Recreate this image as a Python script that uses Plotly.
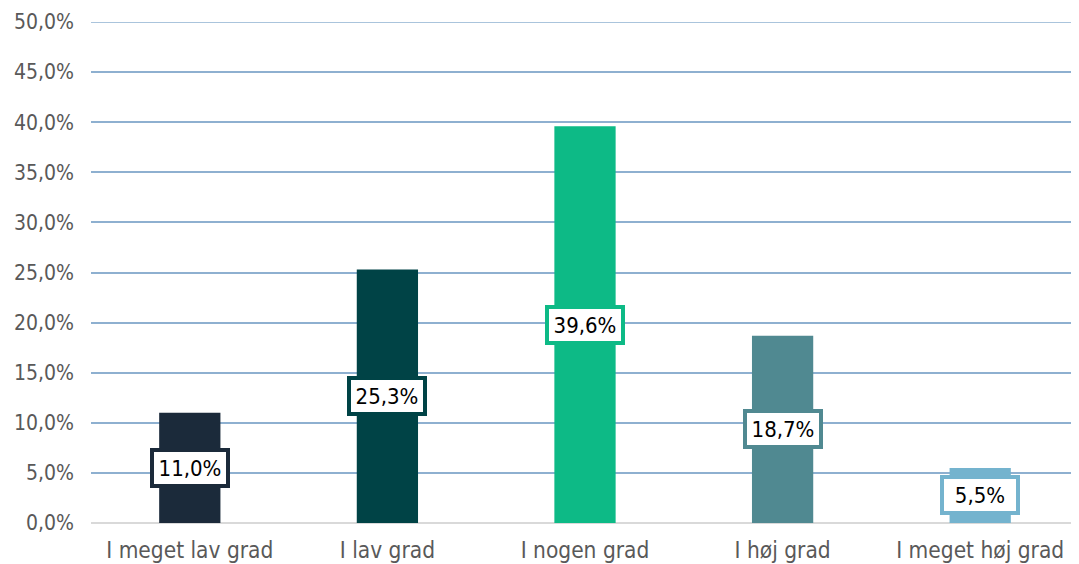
import plotly.graph_objects as go

# Values
categories = ["I meget lav grad", "I lav grad", "I nogen grad", "I høj grad", "I meget høj grad"]
shares = [11.0, 25.3, 39.6, 18.7, 5.5]
bar_colors = ["#1B2A3A", "#004346", "#0DBA86", "#508991", "#74B3CE"]
y_ticks = [0, 5, 10, 15, 20, 25, 30, 35, 40, 45, 50]
y_tick_labels = ["0,0%", "5,0%", "10,0%", "15,0%", "20,0%", "25,0%",
                 "30,0%", "35,0%", "40,0%", "45,0%", "50,0%"]

FONT = "DejaVu Sans Condensed, DejaVu Sans, sans-serif"
GRID = "#8EB0D0"

fig = go.Figure()
fig.add_trace(go.Bar(
    x=categories,
    y=shares,
    marker=dict(color=bar_colors, line=dict(width=0)),
    width=0.31,
    showlegend=False,
    hoverinfo="x+y",
))

# white label boxes sitting halfway up each bar
for cat, val, col in zip(categories, shares, bar_colors):
    fig.add_annotation(
        x=cat, y=val / 2,
        text=f"{val:.1f}%".replace(".", ","),
        showarrow=False,
        font=dict(family=FONT, size=22, color="black"),
        bgcolor="white",
        bordercolor=col,
        borderwidth=4,
        borderpad=2,
        width=68, height=28,
    )

# top gridline gets dropped at the plot edge, so draw it explicitly
fig.add_hline(y=y_ticks[-1], line=dict(color=GRID, width=1.5), layer="below")

# page body has an 8px margin -> shrink the figure to compensate
fig.update_layout(
    width=1071, height=556,
    margin=dict(l=83, r=0, t=14, b=41),
    paper_bgcolor="white",
    plot_bgcolor="white",
    bargap=0.69,
    font=dict(family=FONT, color="#595959", size=18),
)
fig.update_xaxes(
    showgrid=False,
    showline=False,
    ticks="",
    tickfont=dict(size=22.5, color="#595959"),
    ticklabelstandoff=11,
)
fig.update_yaxes(
    range=[0, 50],
    tickvals=y_ticks,
    ticktext=y_tick_labels,
    showgrid=True,
    gridcolor=GRID,
    gridwidth=1.5,
    zeroline=True,
    zerolinecolor="#D9D9D9",
    zerolinewidth=2,
    tickfont=dict(size=21, color="#595959"),
    ticklabelstandoff=16,
)

fig.write_html("out.html")
